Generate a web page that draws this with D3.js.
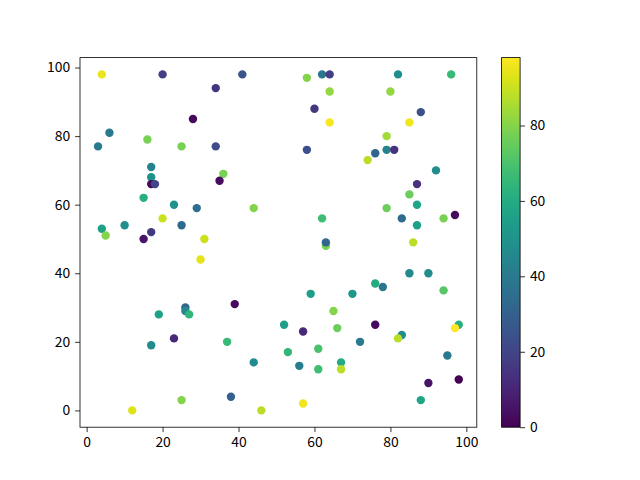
<!DOCTYPE html>
<html>
<head>
<meta charset="utf-8">
<script src="https://cdn.jsdelivr.net/npm/d3@7"></script>
<style>
  body { margin: 0; background: #fff; }
  text { font-family: "Noto Sans CJK SC", "DejaVu Sans", sans-serif; }
</style>
</head>
<body>
<div id="vis"></div>
<script>
// Scatter data: x, y and the value used for colour
const X_VALUES = [4, 20, 34, 28, 6, 3, 16, 25, 34, 17, 17, 17, 18, 15, 23, 29, 20, 4, 10, 25, 5, 17, 15, 31,
                  41, 58, 62, 64, 64, 60, 64, 58, 36, 35, 44, 62, 63, 63,
                  82, 96, 80, 88, 85, 79, 79, 76, 81, 74, 92, 87, 85, 87, 79, 83, 87, 94, 97, 86,
                  30, 26, 26, 27, 19, 23, 17, 25, 12,
                  39, 59, 65, 52, 57, 66, 37, 53, 61, 44, 56, 61, 67, 67, 38, 57, 46,
                  85, 90, 76, 78, 70, 94, 76, 98, 97, 72, 83, 82, 95, 90, 98, 88];
const Y_VALUES = [98, 98, 94, 85, 81, 77, 79, 77, 77, 71, 68, 66, 66, 62, 60, 59, 56, 53, 54, 54, 51, 52, 50, 50,
                  98, 97, 98, 98, 93, 88, 84, 76, 69, 67, 59, 56, 48, 49,
                  98, 98, 93, 87, 84, 80, 76, 75, 76, 73, 70, 66, 63, 60, 59, 56, 54, 56, 57, 49,
                  44, 30, 29, 28, 28, 21, 19, 3, 0,
                  31, 34, 29, 25, 23, 24, 20, 17, 18, 14, 13, 12, 14, 12, 4, 2, 0,
                  40, 40, 37, 36, 34, 35, 25, 25, 24, 20, 22, 21, 16, 8, 9, 3];
const C_VALUES = [95, 18, 15, 2, 40, 40, 78, 78, 22, 44, 50, 3, 20, 62, 50, 35, 90, 56, 48, 34, 80, 16, 5, 90,
                  25, 80, 38, 18, 82, 16, 97, 24, 78, 3, 80, 68, 78, 32,
                  48, 66, 82, 24, 96, 84, 44, 32, 14, 88, 48, 14, 76, 58, 76, 34, 56, 78, 3, 88,
                  94, 32, 46, 64, 56, 11, 47, 80, 93,
                  3, 54, 80, 55, 11, 76, 66, 64, 70, 47, 42, 68, 60, 88, 30, 96, 88,
                  46, 48, 60, 38, 52, 72, 3, 62, 98, 40, 47, 88, 40, 5, 0, 58];

const CBAR_TICKS = [0, 20, 40, 60, 80];

// Frame and plot area
const FRAME_WIDTH = 640;
const FRAME_HEIGHT = 480;
const MARGINS = {left: 80, right: 163.2, top: 57.6, bottom: 52.8};
const VIS_WIDTH = FRAME_WIDTH - MARGINS.left - MARGINS.right;
const VIS_HEIGHT = FRAME_HEIGHT - MARGINS.top - MARGINS.bottom;

// Colorbar box
const CBAR = {left: 501.6, width: 18.5, top: MARGINS.top, height: VIS_HEIGHT};

const FONT_SIZE = "13.9px";

const FRAME = d3.select("#vis")
                .append("svg")
                  .attr("width", FRAME_WIDTH)
                  .attr("height", FRAME_HEIGHT);

// 5% padding on each side like matplotlib's autoscale
function padded(vals) {
  const ext = d3.extent(vals);
  const pad = (ext[1] - ext[0]) * 0.05;
  return [ext[0] - pad, ext[1] + pad];
}

const X_SCALE = d3.scaleLinear()
                  .domain(padded(X_VALUES))
                  .range([0, VIS_WIDTH]);

const Y_SCALE = d3.scaleLinear()
                  .domain(padded(Y_VALUES))
                  .range([VIS_HEIGHT, 0]);

const COLOR = d3.scaleSequential(d3.interpolateViridis)
                .domain(d3.extent(C_VALUES));

const points = X_VALUES.map((x, i) => ({x: x, y: Y_VALUES[i], c: C_VALUES[i]}));

const PLOT = FRAME.append("g")
                  .attr("transform", "translate(" + MARGINS.left + "," + MARGINS.top + ")");

// Points
PLOT.selectAll("circle")
    .data(points)
    .enter()
    .append("circle")
      .attr("cx", (d) => X_SCALE(d.x))
      .attr("cy", (d) => Y_SCALE(d.y))
      .attr("r", 4.2)
      .style("fill", (d) => COLOR(d.c));

// Axes
const xAxis = PLOT.append("g")
    .attr("transform", "translate(0," + VIS_HEIGHT + ")")
    .call(d3.axisBottom(X_SCALE).tickValues([0, 20, 40, 60, 80, 100]).tickSizeOuter(0).tickSize(4.9).tickPadding(4.9));

const yAxis = PLOT.append("g")
    .call(d3.axisLeft(Y_SCALE).tickValues([0, 20, 40, 60, 80, 100]).tickSizeOuter(0).tickSize(4.9).tickPadding(4.9));

[xAxis, yAxis].forEach((ax) => {
  ax.select(".domain").remove();
  ax.selectAll("line").attr("stroke", "#000").attr("stroke-width", 0.8);
  ax.selectAll("text").attr("font-size", FONT_SIZE).attr("fill", "#000")
    .style("font-family", "'Noto Sans CJK SC', 'DejaVu Sans', sans-serif");
});

// Frame box around the plot
PLOT.append("rect")
    .attr("width", VIS_WIDTH)
    .attr("height", VIS_HEIGHT)
    .attr("fill", "none")
    .attr("stroke", "#000")
    .attr("stroke-width", 0.8);

// Colorbar gradient
const grad = FRAME.append("defs")
                  .append("linearGradient")
                    .attr("id", "viridis")
                    .attr("x1", "0").attr("y1", "1")
                    .attr("x2", "0").attr("y2", "0");

d3.range(0, 1.0001, 0.05).forEach((t) => {
  grad.append("stop")
      .attr("offset", t)
      .attr("stop-color", d3.interpolateViridis(t));
});

const CBAR_SCALE = d3.scaleLinear()
                     .domain(COLOR.domain())
                     .range([CBAR.height, 0]);

const CB = FRAME.append("g")
                .attr("transform", "translate(" + CBAR.left + "," + CBAR.top + ")");

CB.append("rect")
  .attr("width", CBAR.width)
  .attr("height", CBAR.height)
  .attr("fill", "url(#viridis)");

const cAxis = CB.append("g")
    .attr("transform", "translate(" + CBAR.width + ",0)")
    .call(d3.axisRight(CBAR_SCALE).tickValues(CBAR_TICKS).tickSizeOuter(0).tickSize(4.9).tickPadding(4.9));

cAxis.select(".domain").remove();
cAxis.selectAll("line").attr("stroke", "#000").attr("stroke-width", 0.8);
cAxis.selectAll("text").attr("font-size", FONT_SIZE).attr("fill", "#000")
     .style("font-family", "'Noto Sans CJK SC', 'DejaVu Sans', sans-serif");

CB.append("rect")
  .attr("width", CBAR.width)
  .attr("height", CBAR.height)
  .attr("fill", "none")
  .attr("stroke", "#000")
  .attr("stroke-width", 0.8);
</script>
</body>
</html>
